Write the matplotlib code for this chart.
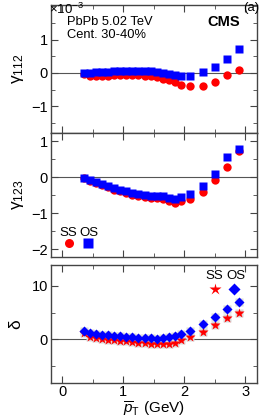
import matplotlib
matplotlib.use('Agg')
import matplotlib.pyplot as plt
from matplotlib.lines import Line2D
from matplotlib.ticker import MultipleLocator, FixedLocator

plt.rcParams['font.family'] = ['Liberation Sans', 'DejaVu Sans']
plt.rcParams['mathtext.fontset'] = 'custom'
plt.rcParams['mathtext.rm'] = 'Liberation Sans'
plt.rcParams['mathtext.it'] = 'Liberation Sans:italic'

pt = [0.35, 0.45, 0.55, 0.65, 0.75, 0.85, 0.95, 1.05, 1.15, 1.25, 1.35, 1.45,
      1.55, 1.65, 1.75, 1.85, 1.95, 2.1, 2.3, 2.5, 2.7, 2.9]

# gamma_112 (x 1e-3)
g112_os = [0.0, 0.01, 0.02, 0.03, 0.04, 0.05, 0.06, 0.07, 0.07, 0.07, 0.06,
           0.05, 0.03, 0.01, -0.02, -0.05, -0.08, -0.09, 0.02, 0.17, 0.42, 0.72]
g112_ss = [-0.02, -0.08, -0.1, -0.09, -0.08, -0.07, -0.06, -0.05, -0.05, -0.06,
           -0.08, -0.1, -0.13, -0.17, -0.22, -0.28, -0.35, -0.39, -0.4, -0.26,
           -0.06, 0.1]

# gamma_123 (x 1e-3)
g123_os = [-0.02, -0.07, -0.12, -0.18, -0.24, -0.3, -0.34, -0.39, -0.43, -0.46,
           -0.49, -0.51, -0.52, -0.53, -0.57, -0.6, -0.56, -0.47, -0.24, 0.09,
           0.57, 0.78]
g123_ss = [-0.03, -0.09, -0.15, -0.21, -0.28, -0.34, -0.39, -0.44, -0.48, -0.52,
           -0.55, -0.57, -0.58, -0.6, -0.65, -0.7, -0.65, -0.6, -0.42, -0.08,
           0.28, 0.74]

# delta (x 1e-3)
delta_os = [1.5, 1.2, 1.0, 0.9, 0.8, 0.7, 0.6, 0.5, 0.4, 0.3, 0.25, 0.2, 0.15,
            0.2, 0.4, 0.6, 1.0, 1.55, 2.8, 4.2, 5.6, 6.9]
delta_ss = [1.2, 0.5, 0.2, 0.0, -0.1, -0.2, -0.3, -0.4, -0.5, -0.6, -0.7, -0.8,
            -0.85, -0.85, -0.8, -0.6, -0.2, 0.4, 1.4, 2.6, 3.9, 4.9]

red = '#ff0000'
blue = '#0000ff'
axcol = '#444444'

fig = plt.figure(figsize=(2.66, 4.18), dpi=100)
ax1 = fig.add_axes([0.19, 0.682, 0.778, 0.307])
ax2 = fig.add_axes([0.19, 0.386, 0.778, 0.296])
ax3 = fig.add_axes([0.19, 0.0845, 0.778, 0.2816])


def style(ax, ylim, major, minor):
    ax.set_xlim(-0.19, 3.2)
    ax.set_ylim(*ylim)
    ax.axhline(0, color='#555555', lw=0.8, zorder=1)
    ax.xaxis.set_major_locator(MultipleLocator(1))
    ax.xaxis.set_minor_locator(MultipleLocator(0.5))
    ax.yaxis.set_major_locator(FixedLocator(major))
    ax.yaxis.set_minor_locator(MultipleLocator(minor))
    ax.tick_params(which='both', direction='in', top=True, right=True,
                   color=axcol, labelsize=10.5, pad=2)
    ax.tick_params(which='major', length=5)
    ax.tick_params(which='minor', length=3)
    for s in ax.spines.values():
        s.set_color(axcol)
        s.set_linewidth(1.0)


style(ax1, (-1.8, 2.05), [-1, 0, 1], 0.5)
style(ax2, (-2.2, 1.23), [-2, -1, 0, 1], 0.5)
style(ax3, (-8.1, 13.9), [0, 10], 5)

ax1.plot(pt, g112_ss, 'o', color=red, ms=6, mec='none', zorder=3)
ax1.plot(pt, g112_os, 's', color=blue, ms=5.6, mec='none', zorder=4)
ax1.set_ylabel('γ$_{112}$', fontsize=12.5, labelpad=4)
ax1.tick_params(labelbottom=False)

ax2.plot(pt, g123_ss, 'o', color=red, ms=6, mec='none', zorder=3)
ax2.plot(pt, g123_os, 's', color=blue, ms=5.6, mec='none', zorder=4)
ax2.set_ylabel('γ$_{123}$', fontsize=12.5, labelpad=4)
ax2.tick_params(labelbottom=False)

# systematic boxes
ax3.plot(pt, delta_ss, 's', color='#d9d9d9', ms=6, mec='none', zorder=2)
ax3.plot(pt, delta_os, 's', color='#d9d9d9', ms=6, mec='none', zorder=2)
ax3.plot(pt, delta_ss, '*', color=red, ms=7.5, mec='none', zorder=3)
ax3.plot(pt, delta_os, 'D', color=blue, ms=5, mec='none', zorder=4)
ax3.set_ylabel('δ', fontsize=12.5, labelpad=6)
ax3.set_xlabel(r'$\overline{p}_{\mathrm{T}}$ (GeV)', fontsize=11, labelpad=0)

# legends
h2 = [Line2D([], [], ls='none', marker='o', color=red, ms=6.5, mec='none'),
      Line2D([], [], ls='none', marker='s', color=blue, ms=6.5, mec='none')]
ax2.legend(h2, ['', ''], ncol=2, frameon=False, loc='center',
           bbox_to_anchor=(0.135, 0.103), handlelength=0.8, handletextpad=0,
           columnspacing=0.7, fontsize=9, borderpad=0)
ax2.text(0.087, 0.19, 'SS', transform=ax2.transAxes, ha='center', va='center', fontsize=9.5)
ax2.text(0.186, 0.19, 'OS', transform=ax2.transAxes, ha='center', va='center', fontsize=9.5)

h3 = [Line2D([], [], ls='none', marker='*', color=red, ms=9, mec='none'),
      Line2D([], [], ls='none', marker='D', color=blue, ms=6, mec='none')]
ax3.legend(h3, ['', ''], ncol=2, frameon=False, loc='center',
           bbox_to_anchor=(0.841, 0.788), handlelength=0.8, handletextpad=0,
           columnspacing=0.7, fontsize=9, borderpad=0)
ax3.text(0.79, 0.906, 'SS', transform=ax3.transAxes, ha='center', va='center', fontsize=9.5)
ax3.text(0.895, 0.906, 'OS', transform=ax3.transAxes, ha='center', va='center', fontsize=9.5)

ax1.text(0.078, 0.868, 'PbPb 5.02 TeV', transform=ax1.transAxes, fontsize=9.3, va='center')
ax1.text(0.078, 0.765, 'Cent. 30-40%', transform=ax1.transAxes, fontsize=9.3, va='center')
ax1.text(0.915, 0.862, 'CMS', transform=ax1.transAxes, fontsize=10.5,
         fontweight='bold', ha='right', va='center')

fig.text(0.185, 0.978, r'$\times10^{-3}$', fontsize=9.5, va='center')
fig.text(0.975, 0.982, '(a)', fontsize=9.5, ha='right', va='center')

fig.savefig('out.png', dpi=100)
